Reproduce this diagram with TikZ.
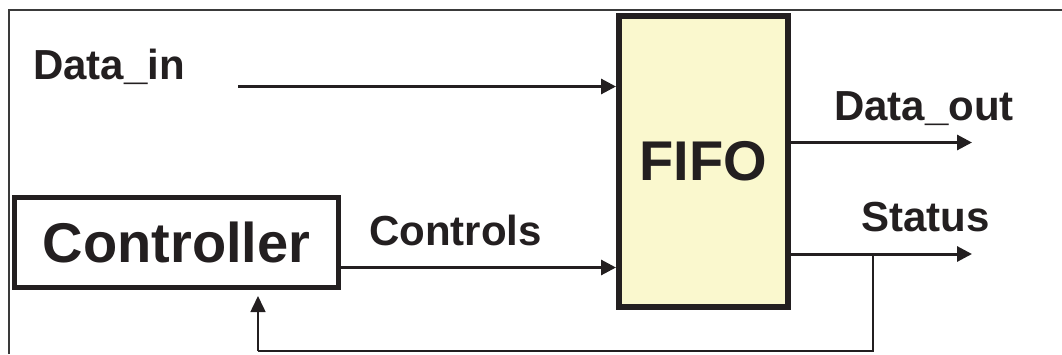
\documentclass[tikz,border=0pt]{standalone}
\usepackage{fontspec}
\setmainfont{Liberation Sans}
\usetikzlibrary{arrows.meta}
\definecolor{ink}{HTML}{231F20}
\definecolor{fifofill}{HTML}{FAF8CE}
\definecolor{framegray}{HTML}{3A3A3A}
\tikzset{
  blockbox/.style={draw=ink, line width=6pt, rectangle, inner sep=0pt, font=\fontsize{56}{60}\selectfont\bfseries, text=ink},
  sig/.style={draw=ink, line width=3pt, -{Triangle[length=15pt,width=15pt]}},
  fb/.style={draw=ink, line width=1.6pt},
  fbarrow/.style={draw=ink, line width=1.6pt, -{Triangle[length=16pt,width=15pt]}},
  lbl/.style={anchor=base west, inner sep=0pt, font=\fontsize{42}{46}\selectfont\bfseries, text=ink},
}
\begin{document}
\begin{tikzpicture}[x=1pt,y=-1pt]
\useasboundingbox (0,0) rectangle (1062,354);
\fill[white] (0,0) rectangle (1062,354);
% frame
\draw[framegray, line width=1.6pt] (9,354) -- (9,10) -- (1062,10);
% blocks
\node[blockbox, fill=fifofill, minimum width=169pt, minimum height=291pt] (fifo) at (703.5,161.5) {FIFO};
\node[blockbox, line width=5pt, fill=white, minimum width=324pt, minimum height=90pt] (ctrl) at (176.5,242.5) {Controller};
% labels
\node[lbl] (ldin) at (33,79) {Data\_in};
\node[lbl] (ldout) at (834,120) {Data\_out};
\node[lbl] (lstat) at (861,231) {Status};
\node[lbl] (lctl) at (369,245) {Controls};
% coordinates
\coordinate (din) at (238,86.5);
\coordinate (dout) at (972,142.5);
\coordinate (sout) at (972,254);
\coordinate (tap) at (873,254);
\coordinate (fbl) at (258,351);
% connectors
\draw[sig] (din) -- (din -| fifo.west);
\draw[sig] (ctrl.east |- 0,267.5) -- (fifo.west |- 0,267.5);
\draw[sig] (fifo.east |- dout) -- (dout);
\draw[sig] (fifo.east |- sout) -- (sout);
\draw[fb] (tap) -- (tap |- fbl) -- (fbl);
\draw[fbarrow] (fbl) -- ([yshift=-6pt]fbl |- ctrl.south);
\end{tikzpicture}
\end{document}
